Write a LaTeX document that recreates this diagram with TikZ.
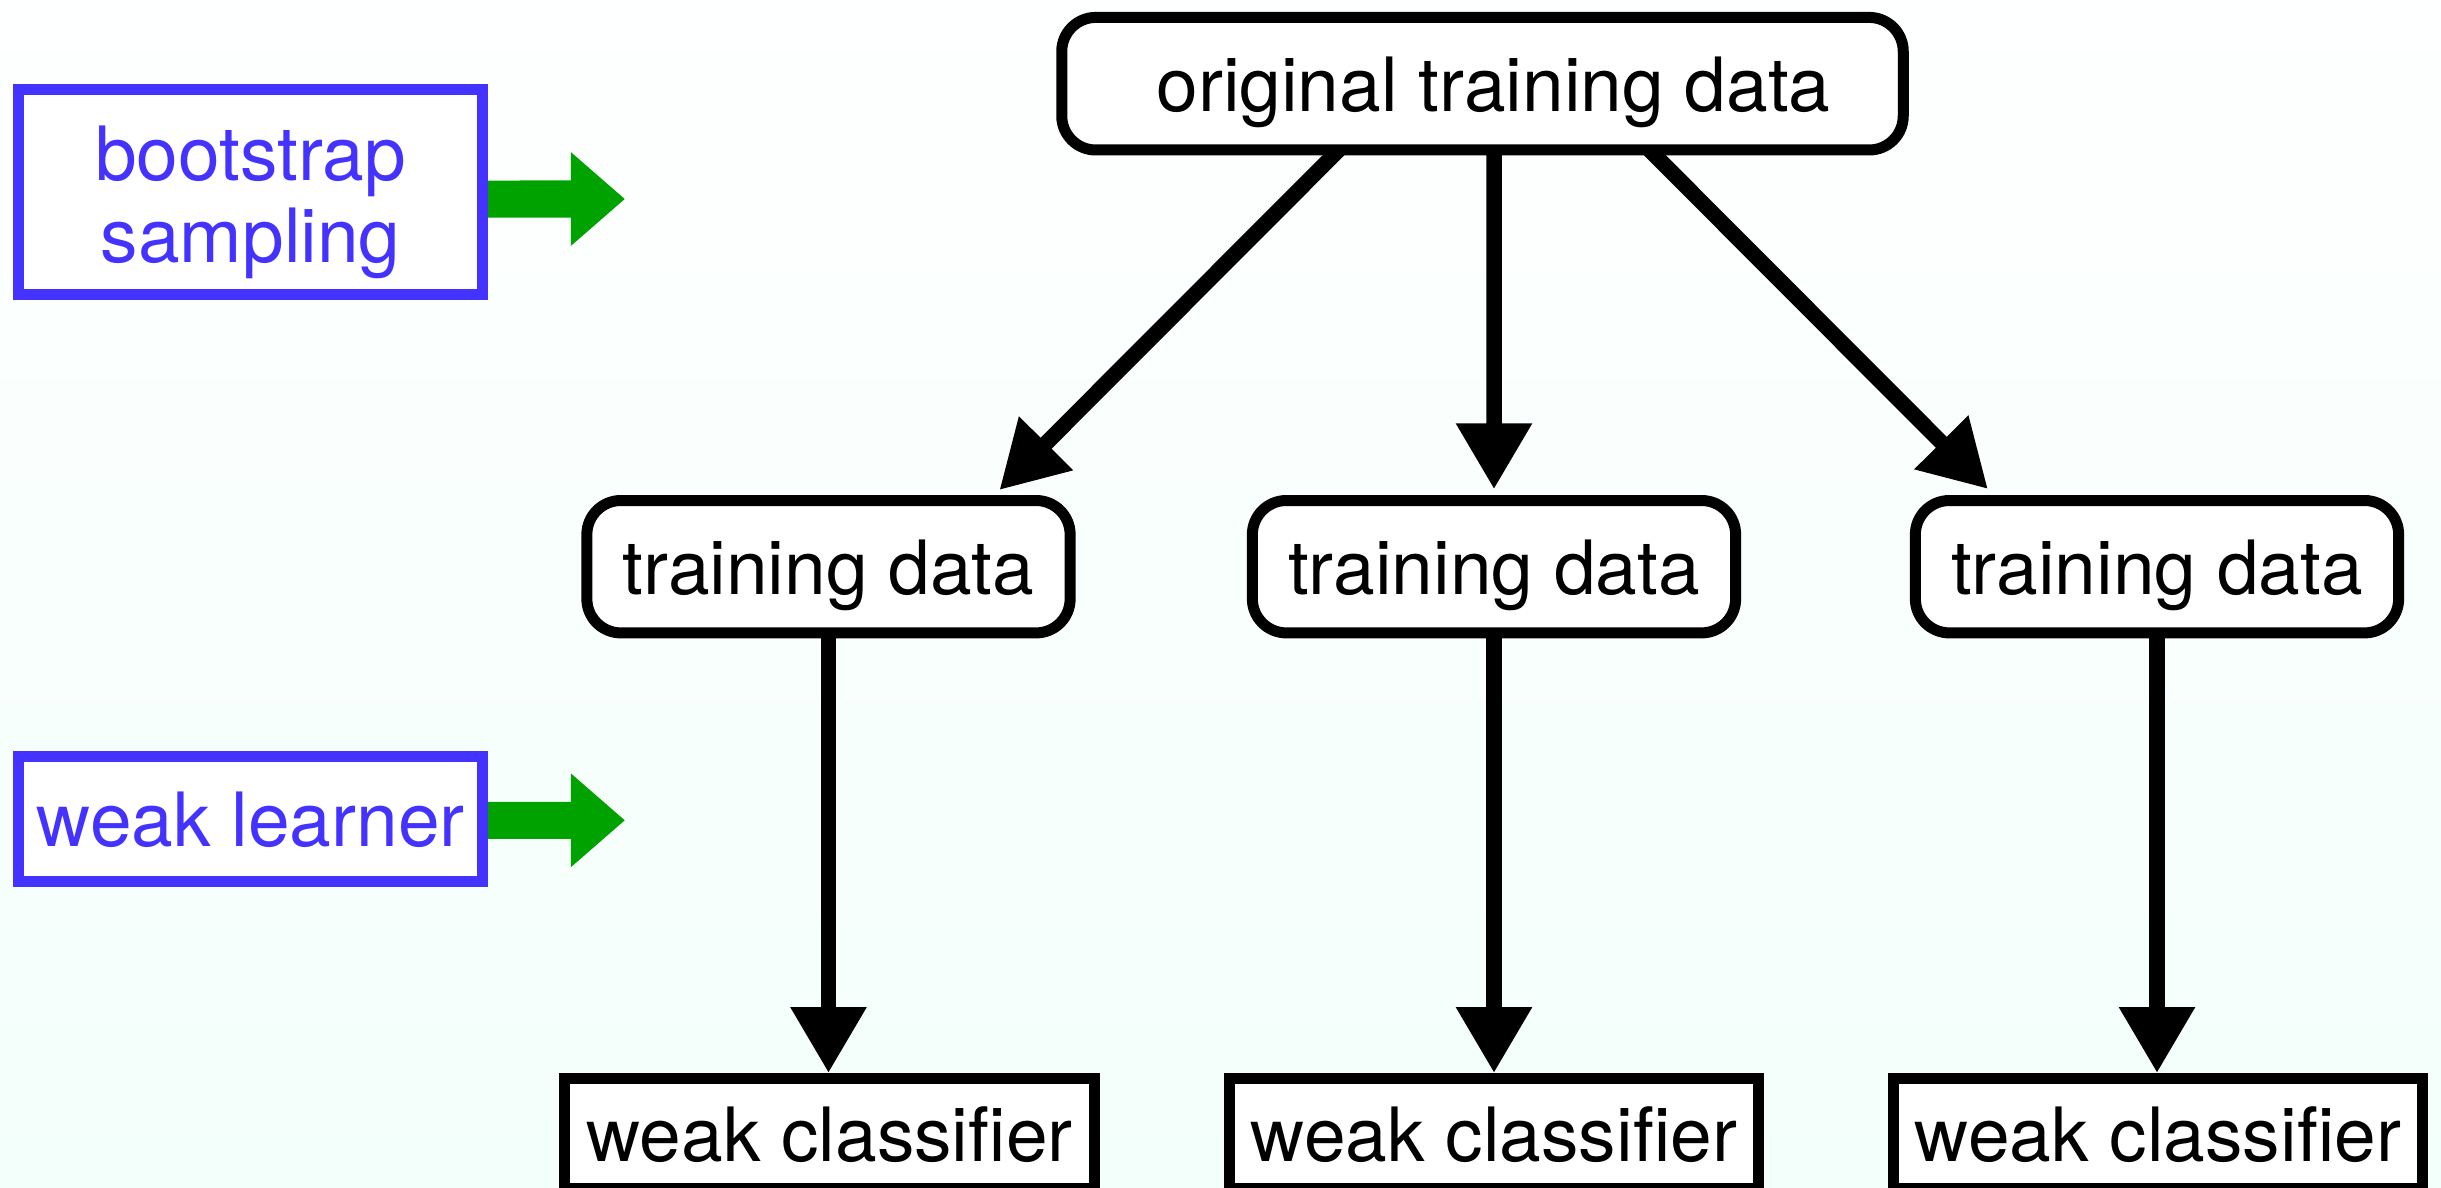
\documentclass[tikz,border=0pt]{standalone}
\usepackage{fontspec}
\setmainfont{TeX Gyre Heros}
\usetikzlibrary{arrows.meta}
\definecolor{bluec}{RGB}{68,51,255}
\definecolor{greenc}{RGB}{0,162,0}
\definecolor{mintbot}{RGB}{243,255,251}
\definecolor{minttop}{RGB}{254,255,255}
\pgfdeclarelayer{bgfill}
\pgfdeclarelayer{arrowlayer}
\pgfsetlayers{bgfill,arrowlayer,main}
\begin{document}
\begin{tikzpicture}[x=0.01cm,y=-0.01cm,
  every node/.style={font=\fontsize{21.3pt}{23.3pt}\selectfont, inner sep=0pt},
  bluebox/.style={draw=bluec, text=bluec, line width=0.11cm, fill=white, minimum width=4.64cm},
  rbox/.style={draw=black, line width=0.11cm, fill=white, rounded corners=0.34cm, text height=0.56cm, text depth=0cm},
  sbox/.style={draw=black, line width=0.11cm, fill=white, text height=0.56cm, text depth=0cm, minimum width=5.29cm, minimum height=1.10cm},
  flow/.style={line width=0.155cm, -{Triangle[length=0.66cm,width=0.72cm]}},
  garrow/.style={draw=greenc, line width=0.37cm, -{Triangle[length=0.54cm,width=0.9cm]}}
]
\useasboundingbox (0,0) rectangle (2441,1187);
\begin{pgfonlayer}{bgfill}
  \shade[top color=minttop, bottom color=mintbot] (0,0) rectangle (2441,1187);
\end{pgfonlayer}

% left legend boxes
\node[bluebox, minimum height=2.05cm, align=center] (bs) at (250.6,192.2) {\rule{0pt}{0.74cm}bootstrap\\sampling};
\node[bluebox, minimum height=1.25cm, text height=0.56cm, text depth=0cm] (wl) at (250.6,818.8) {weak learner};
\coordinate (ga1) at (625,199);
\coordinate (ga2) at (625,820.3);
\draw[garrow] ([yshift=-0.068cm]bs.east) -- (ga1);
\draw[garrow] ([yshift=-0.015cm]wl.east) -- (ga2);

% main tree
\node[rbox, minimum width=8.41cm, minimum height=1.325cm] (top) at (1482.5,83.7) {\hspace{0.22cm}original training data};
\node[rbox, minimum width=4.83cm, minimum height=1.323cm] (td1) at (828.5,566.7) {training data};
\node[rbox, minimum width=4.83cm, minimum height=1.323cm] (td2) at (1494,566.7) {training data};
\node[rbox, minimum width=4.83cm, minimum height=1.323cm] (td3) at (2157,566.7) {training data};
\node[sbox] (wc1) at (829.5,1133.6) {weak classifier};
\node[sbox] (wc2) at (1494,1133.6) {weak classifier};
\node[sbox] (wc3) at (2158,1133.6) {weak classifier};

\begin{pgfonlayer}{arrowlayer}
  \draw[flow, shorten <=-0.2cm] ([xshift=-1.492cm]top.south) -- ([xshift=1.708cm,yshift=0.05cm]td1.north);
  \draw[flow, shorten <=-0.2cm] ([xshift=0.115cm]top.south) -- ([yshift=0.057cm]td2.north);
  \draw[flow, shorten <=-0.2cm] ([xshift=1.725cm]top.south) -- ([xshift=-1.69cm,yshift=0.06cm]td3.north);
  \draw[flow, shorten <=-0.2cm] (td1.south) -- (td1.south |- wc1.north);
  \draw[flow, shorten <=-0.2cm] (td2.south) -- (td2.south |- wc2.north);
  \draw[flow, shorten <=-0.2cm] (td3.south) -- (td3.south |- wc3.north);
\end{pgfonlayer}
\end{tikzpicture}
\end{document}
